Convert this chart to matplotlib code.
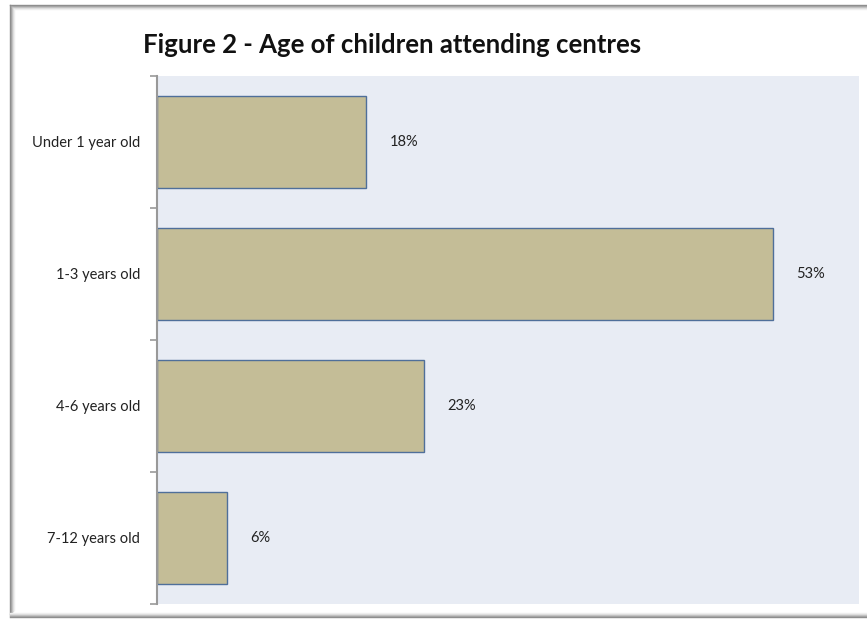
import matplotlib
matplotlib.use("Agg")
import matplotlib.pyplot as plt
from matplotlib.lines import Line2D

categories = ["Under 1 year old", "1-3 years old", "4-6 years old", "7-12 years old"]
values = [18, 53, 23, 6]
value_labels = ["18%", "53%", "23%", "6%"]

plt.rcParams['font.family'] = ['Lato', 'DejaVu Sans']

W, H = 867, 619
fig = plt.figure(figsize=(W / 100, H / 100), dpi=100)
fig.patch.set_facecolor("white")

# plot area in pixel terms
left, right, top, bottom = 157, 859, 76, 604
ax = fig.add_axes([left / W, 1 - bottom / H, (right - left) / W, (bottom - top) / H])
ax.set_facecolor("#E8ECF4")

pos = list(range(len(categories)))
ax.barh(pos, values, height=0.70, color="#C4BD97", edgecolor="#4F6F9A", linewidth=1.0)
for p, v, lab in zip(pos, values, value_labels):
    ax.text(v + 2.0, p, lab, va="center", ha="left", fontsize=10.5, color="#222222")

ax.set_xlim(0, 60.4)
ax.set_ylim(len(categories) - 0.5, -0.5)
ax.set_xticks([])
ax.set_yticks(pos)
ax.set_yticklabels(categories, fontsize=10.5, color="#222222")
ax.tick_params(axis="y", length=0, pad=12)
ax.set_yticks([i - 0.5 for i in range(len(categories) + 1)], minor=True)
ax.tick_params(axis="y", which="minor", length=5, width=1.2, color="#999999")
for s in ["top", "right", "bottom"]:
    ax.spines[s].set_visible(False)
ax.spines["left"].set_color("#999999")
ax.spines["left"].set_linewidth(1.5)

fig.text(392 / W, 1 - 45 / H, "Figure 2 - Age of children attending centres",
         ha="center", va="center", fontsize=18.5, fontweight="bold", color="#111111")

# shaded frame on the left, top and bottom edges
def px_line(xs, ys, c, lw=1.0):
    fig.add_artist(Line2D([x / W for x in xs], [1 - y / H for y in ys],
                          transform=fig.transFigure, color=c, linewidth=lw))

shades = ["#8a8a8a", "#a0a0a0", "#bdbdbd", "#dadada", "#eeeeee"]
for i, c in enumerate(shades):
    px_line([10 + i, 10 + i], [5 + i, 614 - i], c)
    px_line([10 + i, W], [5 + i, 5 + i], c)
for i, c in enumerate(shades):
    px_line([10, W], [617 - i, 617 - i], c)

fig.savefig("out.png", dpi=100)
